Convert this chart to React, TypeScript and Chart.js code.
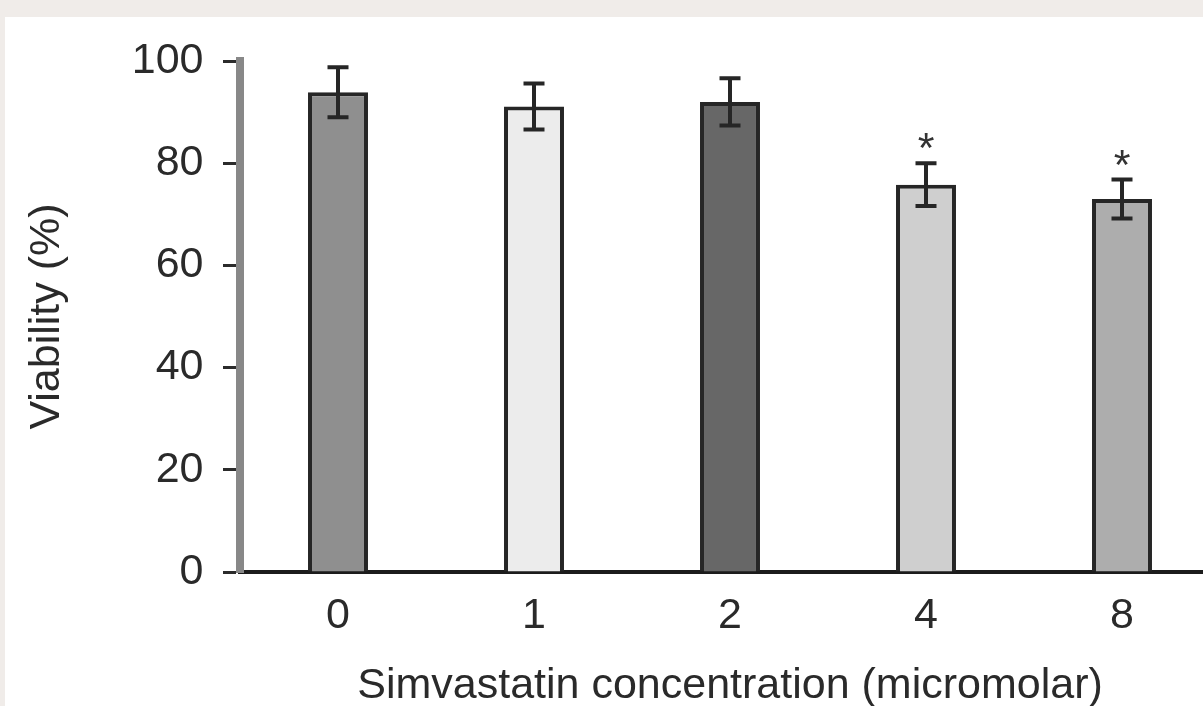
import React, { useEffect, useRef } from "react";
import { Chart, registerables } from "chart.js";

Chart.register(...registerables);

const categories = ["0", "1", "2", "4", "8"];
const viability = [93.9, 91.1, 92.0, 75.8, 73.0];
const errors = [4.9, 4.5, 4.6, 4.2, 3.8];
const significance = ["", "", "", "*", "*"];
const barColors = ["#8f8f8f", "#ececec", "#676767", "#cfcfcf", "#adadad"];
const yMin = 0;
const yMax = 100;
const yStep = 20;

const FONT = '"Liberation Sans", Arial, sans-serif';

const errorBarPlugin = {
  id: "errorBars",
  afterDatasetsDraw(chart: any) {
    const meta = chart.getDatasetMeta(0);
    const y = chart.scales.y;
    const ctx = chart.ctx;
    ctx.save();
    meta.data.forEach((bar: any, i: number) => {
      const x = bar.x;
      const top = y.getPixelForValue(viability[i] + errors[i]);
      const bot = y.getPixelForValue(viability[i] - errors[i]);
      ctx.strokeStyle = "#262626";
      ctx.lineWidth = 4;
      ctx.lineCap = "butt";
      ctx.beginPath();
      ctx.moveTo(x, top);
      ctx.lineTo(x, bot);
      ctx.moveTo(x - 10.5, top);
      ctx.lineTo(x + 10.5, top);
      ctx.moveTo(x - 10.5, bot);
      ctx.lineTo(x + 10.5, bot);
      ctx.stroke();
      if (significance[i]) {
        ctx.font = `43px ${FONT}`;
        ctx.fillStyle = "#333";
        ctx.textAlign = "center";
        ctx.textBaseline = "alphabetic";
        ctx.fillText(significance[i], x, top - 1);
      }
    });
    ctx.restore();
  },
};

export default function App() {
  const canvasRef = useRef<HTMLCanvasElement | null>(null);

  useEffect(() => {
    if (!canvasRef.current) return;
    const chart = new Chart(canvasRef.current, {
      type: "bar",
      data: {
        labels: categories,
        datasets: [
          {
            data: viability,
            backgroundColor: barColors,
            borderColor: "#262626",
            borderWidth: 4,
            barPercentage: 0.306,
            categoryPercentage: 1,
          },
        ],
      },
      options: {
        responsive: false,
        animation: false,
        devicePixelRatio: 1,
        layout: { padding: { left: 0, top: 61, right: 20, bottom: 0 } },
        plugins: {
          legend: { display: false },
          tooltip: { enabled: false },
        },
        scales: {
          x: {
            afterFit: (s: any) => {
              s.height = 138;
            },
            grid: { display: false, drawTicks: false },
            border: { display: true, color: "#1c1c1c", width: 4 },
            ticks: {
              color: "#2a2a2a",
              padding: 22.5,
              font: { family: FONT, size: 43, lineHeight: 1 },
            },
            title: {
              display: true,
              text: "Simvastatin concentration (micromolar)",
              color: "#2a2a2a",
              font: { family: FONT, size: 43, lineHeight: 1 },
              padding: { top: 0, bottom: 2.5 },
            },
          },
          y: {
            min: yMin,
            max: yMax,
            afterFit: (s: any) => {
              s.width = 240;
            },
            grid: {
              drawOnChartArea: false,
              drawTicks: true,
              tickLength: 17,
              tickColor: "#2b2b2b",
              tickWidth: 3,
            },
            border: { display: true, color: "#888888", width: 8 },
            ticks: {
              stepSize: yStep,
              color: "#2a2a2a",
              padding: 19.5,
              font: { family: FONT, size: 43, lineHeight: 1 },
            },
            title: {
              display: true,
              text: "Viability (%)",
              color: "#2a2a2a",
              font: { family: FONT, size: 43, lineHeight: 1 },
              padding: { top: 26, bottom: 0 },
            },
          },
        },
      },
      plugins: [errorBarPlugin],
    });
    return () => chart.destroy();
  }, []);

  return (
    <div
      style={{
        position: "fixed",
        left: 0,
        top: 0,
        width: 1203,
        height: 706,
        overflow: "hidden",
        background: "#f0ece9",
      }}
    >
      <div
        style={{
          position: "absolute",
          left: 5,
          top: 17,
          right: 0,
          bottom: 0,
          background: "#ffffff",
        }}
      />
      <canvas
        ref={canvasRef}
        width={1240}
        height={710}
        style={{ position: "absolute", left: 0, top: 0 }}
      />
    </div>
  );
}
